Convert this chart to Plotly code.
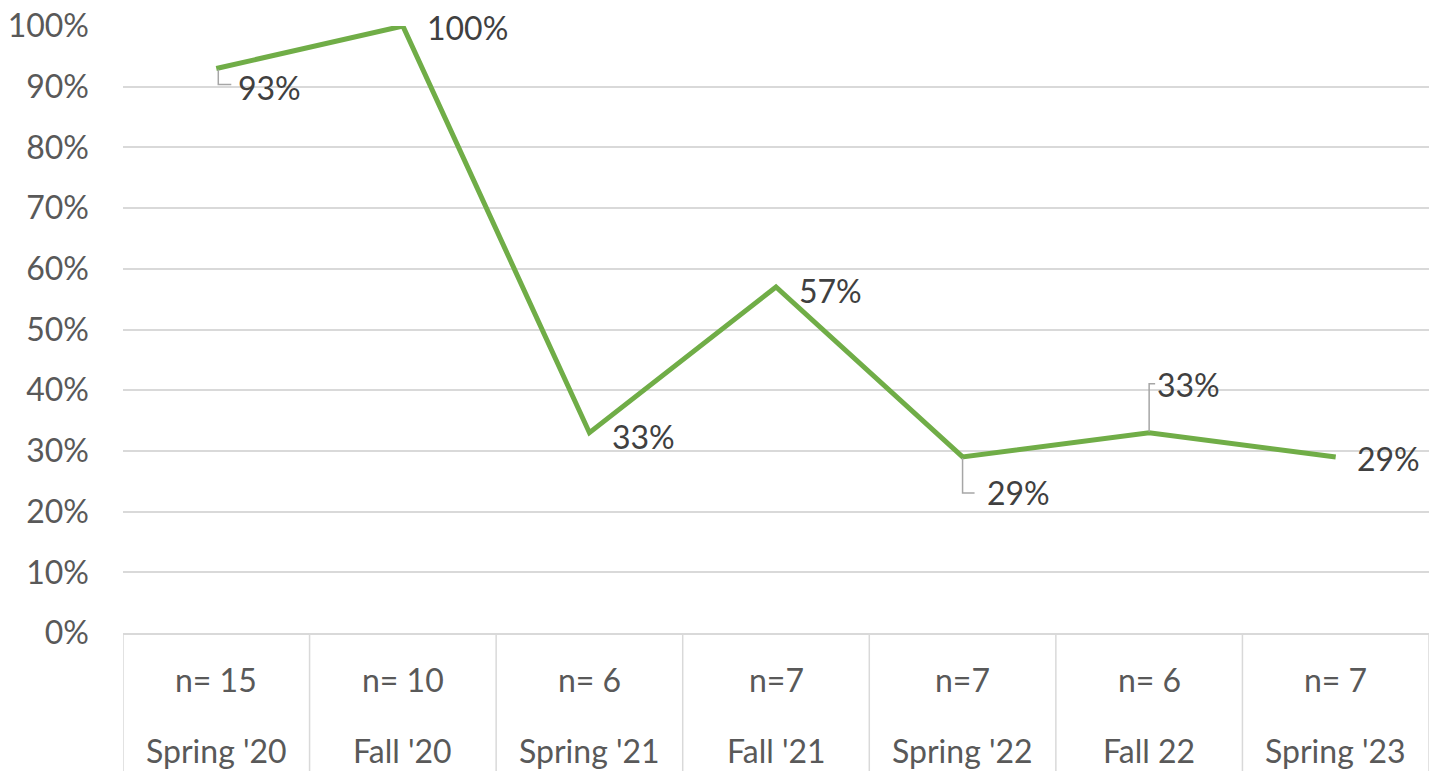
import plotly.graph_objects as go

terms = ["Spring '20", "Fall '20", "Spring '21", "Fall '21", "Spring '22", "Fall 22", "Spring '23"]
n_labels = ["n= 15", "n= 10", "n= 6", "n=7", "n=7", "n= 6", "n= 7"]
values = [0.93, 1.00, 0.33, 0.57, 0.29, 0.33, 0.29]
y_ticks = [0, 0.1, 0.2, 0.3, 0.4, 0.5, 0.6, 0.7, 0.8, 0.9, 1.0]

# label offsets (pixels) and leader line paths (pixel offsets from point)
label_shift = [(20, -19), (22, -1), (21, -4), (21, -3), (22, -36), (6, 48), (19, -2)]
leaders = {0: "M 2,-1 L 2,-16 L 15,-16", 4: "M 0,-1 L 0,-36 L 12,-36", 5: "M 0,1 L 0,49 L 6,49"}

FONT = "Lato, 'Open Sans', sans-serif"
FS = 32
xs = list(range(len(terms)))

fig = go.Figure()
fig.add_trace(go.Scatter(x=xs, y=values, mode="lines",
                         line=dict(color="#70AD47", width=5), hoverinfo="skip"))

for i, (v, (dx, dy)) in enumerate(zip(values, label_shift)):
    fig.add_annotation(x=i, y=v, xref="x", yref="y", text=f"{round(v*100)}%",
                       showarrow=False, xanchor="left", yanchor="middle",
                       xshift=dx, yshift=dy,
                       font=dict(family=FONT, size=FS, color="#404040"))
    if i in leaders:
        fig.add_shape(type="path", xref="x", yref="y", xsizemode="pixel", ysizemode="pixel",
                      xanchor=i, yanchor=v, path=leaders[i],
                      line=dict(color="#A6A6A6", width=1.5))

# category box separators
for b in [i - 0.5 for i in range(len(terms) + 1)]:
    fig.add_shape(type="line", xref="x", yref="paper", x0=b, x1=b, y0=0, y1=-0.3,
                  line=dict(color="#D9D9D9", width=1.5))

for i, (nl, t) in enumerate(zip(n_labels, terms)):
    fig.add_annotation(x=i, y=0, xref="x", yref="paper", text=nl, showarrow=False,
                       yanchor="middle", yshift=-46,
                       font=dict(family=FONT, size=FS, color="#595959"))
    fig.add_annotation(x=i, y=0, xref="x", yref="paper", text=t, showarrow=False,
                       yanchor="middle", yshift=-117,
                       font=dict(family=FONT, size=FS, color="#595959"))

fig.update_layout(
    width=1432, height=763,
    margin=dict(l=115, r=11, t=18, b=138, autoexpand=False),
    paper_bgcolor="white", plot_bgcolor="white",
    showlegend=False,
    xaxis=dict(range=[-0.5, len(terms) - 0.5], showticklabels=False, showgrid=False,
               zeroline=False, showline=True, linecolor="#D9D9D9", linewidth=1.5, ticks="",
               automargin=False),
    yaxis=dict(range=[0, 1.0], tickvals=y_ticks, tickformat=".0%",
               showgrid=True, gridcolor="#D9D9D9", gridwidth=1.5, zeroline=False,
               showline=False, ticks="", ticklabelstandoff=33, ticklabeloverflow="allow",
               automargin=False,
               tickfont=dict(family=FONT, size=FS, color="#595959")),
)

fig.write_html("out.html")
